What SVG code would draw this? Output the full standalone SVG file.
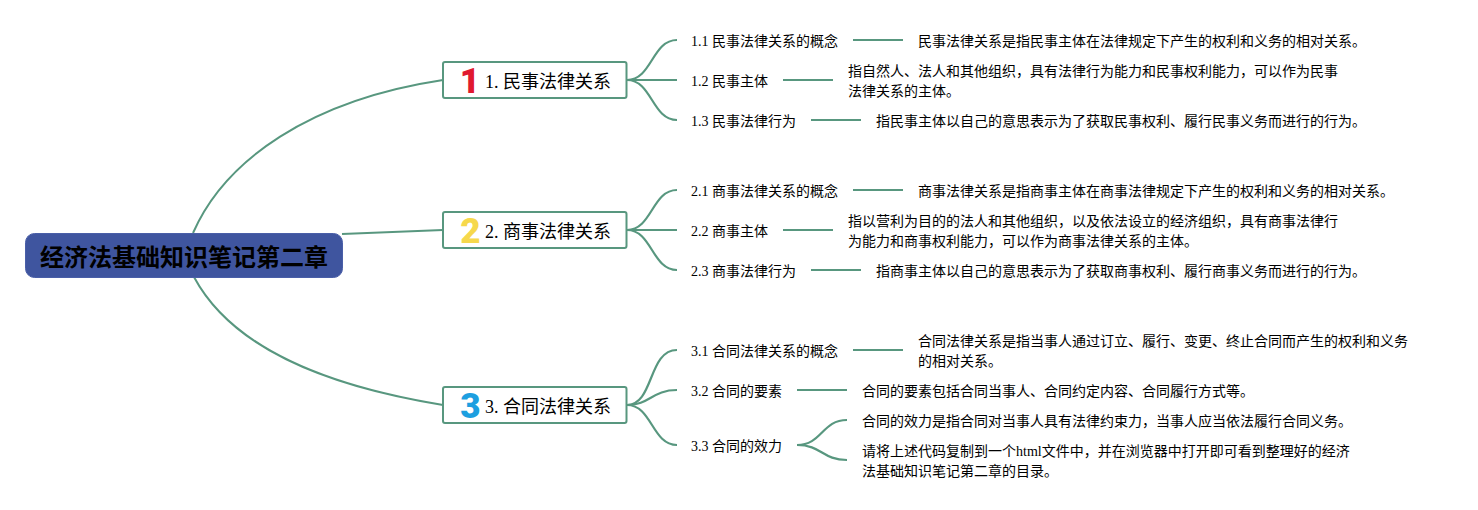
<svg xmlns="http://www.w3.org/2000/svg" width="1478" height="510" viewBox="0 0 1478 510">
<style>
text{font-family:"Liberation Serif","Noto Sans CJK SC",serif;fill:#000}
.root-box{fill:#3f559f;stroke:#4a5fa8;stroke-width:1}
.root-text{font-size:24px;font-weight:700;text-anchor:middle}
.branch-box{fill:#fff;stroke:#58977f;stroke-width:2}
.branch-text{font-size:18px}
.t{font-size:14px}
.icon{font-family:Roboto,"Liberation Sans",sans-serif;font-size:35px;font-weight:900;text-anchor:middle}
#connectors path{fill:none;stroke:#58977f;stroke-width:2}
#connectors .s{stroke-width:2.200}
</style>
<rect width="1478" height="510" fill="#fff"/>
<g id="connectors">
<path d="M193 233C225 160 310 100 443 80"/>
<path d="M342 234C375 233 410 231 443 230"/>
<path d="M194 277C231 346 320 385 443 405"/>
<path class="s" d="M627 80C652 80 652 40 677 40"/>
<path class="s" d="M627 80H677"/>
<path class="s" d="M627 80C652 80 652 120 677 120"/>
<path class="s" d="M853 40H903"/>
<path class="s" d="M783 80H833"/>
<path class="s" d="M811 120H861"/>
<path class="s" d="M627 230C652 230 652 190 677 190"/>
<path class="s" d="M627 230H677"/>
<path class="s" d="M627 230C652 230 652 270 677 270"/>
<path class="s" d="M853 190H903"/>
<path class="s" d="M783 230H833"/>
<path class="s" d="M811 270H861"/>
<path class="s" d="M627 405C654 405 648 350 677 350"/>
<path class="s" d="M627 405C650 405 652 390 677 390"/>
<path class="s" d="M627 405C652 405 652 445 677 445"/>
<path class="s" d="M853 350H903"/>
<path class="s" d="M797 390H847"/>
<path class="s" d="M797 445C822 445 822 420 847 420"/>
<path class="s" d="M797 445C822 445 822 460 847 460"/>
</g>
<g id="root"><rect class="root-box" x="25.500" y="233.500" width="317" height="44" rx="9"/><text class="root-text" x="184" y="266">经济法基础知识笔记第二章</text></g>
<g id="b1"><rect class="branch-box" x="443" y="62" width="183.500" height="36" rx="2"/><text class="icon" x="470" y="92.500" style="fill:#e0192f">1</text><text class="branch-text" x="485" y="88">1. 民事法律关系</text></g>
<g id="b2"><rect class="branch-box" x="443" y="212" width="183.500" height="36" rx="2"/><text class="icon" x="470.500" y="242.500" style="fill:#f6d84c">2</text><text class="branch-text" x="485" y="238">2. 商事法律关系</text></g>
<g id="b3"><rect class="branch-box" x="443" y="387" width="183.500" height="36" rx="2"/><text class="icon" x="470.500" y="417.500" style="fill:#1d9fe0">3</text><text class="branch-text" x="485" y="413">3. 合同法律关系</text></g>
<g id="n11"><text class="t" x="691" y="46">1.1 民事法律关系的概念</text></g>
<g id="n11d"><text class="t" x="918" y="46">民事法律关系是指民事主体在法律规定下产生的权利和义务的相对关系。</text></g>
<g id="n12"><text class="t" x="691" y="86">1.2 民事主体</text></g>
<g id="n12d"><text class="t" x="848" y="76">指自然人、法人和其他组织，具有法律行为能力和民事权利能力，可以作为民事</text><text class="t" x="848" y="96">法律关系的主体。</text></g>
<g id="n13"><text class="t" x="691" y="126">1.3 民事法律行为</text></g>
<g id="n13d"><text class="t" x="876" y="126">指民事主体以自己的意思表示为了获取民事权利、履行民事义务而进行的行为。</text></g>
<g id="n21"><text class="t" x="691" y="196">2.1 商事法律关系的概念</text></g>
<g id="n21d"><text class="t" x="918" y="196">商事法律关系是指商事主体在商事法律规定下产生的权利和义务的相对关系。</text></g>
<g id="n22"><text class="t" x="691" y="236">2.2 商事主体</text></g>
<g id="n22d"><text class="t" x="848" y="226">指以营利为目的的法人和其他组织，以及依法设立的经济组织，具有商事法律行</text><text class="t" x="848" y="246">为能力和商事权利能力，可以作为商事法律关系的主体。</text></g>
<g id="n23"><text class="t" x="691" y="276">2.3 商事法律行为</text></g>
<g id="n23d"><text class="t" x="876" y="276">指商事主体以自己的意思表示为了获取商事权利、履行商事义务而进行的行为。</text></g>
<g id="n31"><text class="t" x="691" y="356">3.1 合同法律关系的概念</text></g>
<g id="n31d"><text class="t" x="918" y="346">合同法律关系是指当事人通过订立、履行、变更、终止合同而产生的权利和义务</text><text class="t" x="918" y="366">的相对关系。</text></g>
<g id="n32"><text class="t" x="691" y="396">3.2 合同的要素</text></g>
<g id="n32d"><text class="t" x="862" y="396">合同的要素包括合同当事人、合同约定内容、合同履行方式等。</text></g>
<g id="n33"><text class="t" x="691" y="451">3.3 合同的效力</text></g>
<g id="n33a"><text class="t" x="862" y="426">合同的效力是指合同对当事人具有法律约束力，当事人应当依法履行合同义务。</text></g>
<g id="n33b"><text class="t" x="862" y="456">请将上述代码复制到一个html文件中，并在浏览器中打开即可看到整理好的经济</text><text class="t" x="862" y="476">法基础知识笔记第二章的目录。</text></g>
</svg>
